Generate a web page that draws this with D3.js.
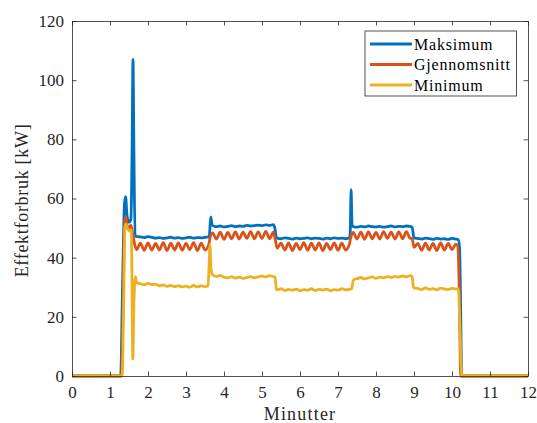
<!DOCTYPE html>
<html><head><meta charset="utf-8">
<script src="https://cdn.jsdelivr.net/npm/d3@7"></script>
<style>body{margin:0;background:#fff}svg{display:block}</style>
</head><body>
<svg id="chart" width="537" height="423"></svg>
<script>
const xTicks = [0,1,2,3,4,5,6,7,8,9,10,11,12];
const yTicks = [0,20,40,60,80,100,120];
const seriesNames = ["Maksimum","Gjennomsnitt","Minimum"];

const maxT = [0,1.28,1.33,1.38,1.41,1.45,1.5,1.55,1.58,1.605,1.63,1.66,
1.7,1.8,1.9,2.0,2.1,2.2,2.3,2.4,2.5,2.6,2.7,2.8,2.9,3.0,3.1,3.2,3.3,3.4,3.5,3.6,
3.62,3.65,3.69,3.75,
3.8,3.9,4.0,4.1,4.2,4.3,4.4,4.5,4.6,4.7,4.8,4.9,5.0,5.1,5.2,5.3,
5.33,5.38,
5.4,5.5,5.6,5.7,5.8,5.9,6.0,6.1,6.2,6.3,6.4,6.5,6.6,6.7,6.8,6.9,7.0,7.1,7.2,7.3,
7.32,7.345,7.37,
7.4,7.5,7.6,7.7,7.8,7.9,8.0,8.1,8.2,8.3,8.4,8.5,8.6,8.7,8.8,8.9,
8.95,9.0,
9.1,9.2,9.3,9.4,9.5,9.6,9.7,9.8,9.9,10.0,10.1,
10.17,10.2,10.26,12];
const maxV = [0,0,30,58,60.6,54,52,53,75,107,75,47.3,
47.2,47.0,46.8,47.1,46.9,46.6,46.8,46.5,46.7,46.9,46.6,46.8,46.5,46.7,46.9,46.6,46.8,46.7,46.9,47.0,
48,53.8,51,50.6,
50.5,50.7,50.4,50.6,50.8,50.5,50.7,50.6,50.9,50.7,50.8,51.0,50.8,51.1,50.9,51.2,
50.5,46.8,
46.6,46.4,46.7,46.5,46.3,46.6,46.4,46.5,46.7,46.4,46.6,46.5,46.3,46.6,46.4,46.7,46.5,46.6,46.4,46.7,
48,63,51,
50.5,50.3,50.6,50.4,50.7,50.5,50.4,50.6,50.3,50.5,50.7,50.4,50.6,50.5,50.7,50.6,
50.3,46.7,
46.5,46.3,46.6,46.4,46.2,46.5,46.3,46.4,46.2,46.5,46.3,
46,43,0,0];

const avgT = [0,1.3,1.34,1.38,1.41,1.45,1.5,1.55,1.6,1.65,
1.7,1.8,1.9,2.0,2.1,2.2,2.3,2.4,2.5,2.6,2.7,2.8,2.9,3.0,3.1,3.2,3.3,3.4,3.5,3.6,
3.63,
3.7,3.8,3.9,4.0,4.1,4.2,4.3,4.4,4.5,4.6,4.7,4.8,4.9,5.0,5.1,5.2,5.3,
5.35,
5.4,5.5,5.6,5.7,5.8,5.9,6.0,6.1,6.2,6.3,6.4,6.5,6.6,6.7,6.8,6.9,7.0,7.1,7.2,7.3,
7.33,
7.4,7.5,7.6,7.7,7.8,7.9,8.0,8.1,8.2,8.3,8.4,8.5,8.6,8.7,8.8,8.9,
8.95,
9.0,9.1,9.2,9.3,9.4,9.5,9.6,9.7,9.8,9.9,10.0,10.1,
10.15,10.19,10.23,12];
const avgV = [0,0,20,50,54,51,50,51,48,44.5,
42.7,44.9,42.5,45.0,42.6,44.8,42.6,45.1,42.4,44.9,42.6,45.0,42.5,44.8,42.7,45.1,42.4,44.9,42.6,44.5,
46.5,
48.4,46.3,48.6,46.2,48.5,46.4,48.7,46.3,48.6,46.5,48.8,46.4,48.7,46.5,48.9,46.4,48.6,
46,
43.2,44.9,42.6,45.0,42.4,44.8,42.7,45.1,42.5,44.9,42.6,45.0,42.4,44.8,42.7,45.0,42.5,44.9,42.6,44.6,
46.5,
48.5,46.3,48.6,46.2,48.7,46.4,48.5,46.3,48.8,46.5,48.6,46.3,48.7,46.4,48.8,46.5,
46.5,
43.5,44.8,42.5,44.9,42.6,44.8,42.4,45.0,42.6,44.8,42.7,44.6,
44,30,0,0];

const minT = [0,1.32,1.36,1.39,1.42,1.47,1.52,1.56,1.58,1.6,1.63,1.67,1.7,
1.8,1.9,2.0,2.1,2.2,2.3,2.4,2.5,2.6,2.7,2.8,2.9,3.0,3.1,3.2,3.3,3.4,3.5,
3.58,3.61,3.63,3.66,3.7,
3.8,3.9,4.0,4.1,4.2,4.3,4.4,4.5,4.6,4.7,4.8,4.9,5.0,5.1,5.2,5.3,
5.34,5.38,
5.4,5.5,5.6,5.7,5.8,5.9,6.0,6.1,6.2,6.3,6.4,6.5,6.6,6.7,6.8,6.9,7.0,7.1,7.2,7.3,
7.36,7.4,7.45,
7.5,7.6,7.7,7.8,7.9,8.0,8.1,8.2,8.3,8.4,8.5,8.6,8.7,8.8,8.9,
8.95,8.99,
9.1,9.2,9.3,9.4,9.5,9.6,9.7,9.8,9.9,10.0,10.1,
10.17,10.2,10.26,12];
const minV = [0,0,25,50,51.4,49.5,49,49.5,30,5.7,25,33.6,31.5,
31.2,30.8,31.3,30.9,31.0,30.5,30.8,30.3,30.6,30.2,30.5,30.1,30.4,30.0,30.6,30.1,30.5,30.2,
30.5,38,44.3,36,34.2,
33.6,34.0,33.4,33.2,33.6,33.1,33.4,33.0,33.3,33.6,33.2,33.5,33.8,33.5,33.9,33.6,
33.5,29.3,
29.1,29.5,28.9,29.3,29.0,29.4,28.8,29.2,29.0,29.5,28.9,29.3,29.1,29.4,28.8,29.2,29.0,29.5,29.1,29.3,
29.5,32.3,32.8,
32.9,33.3,32.8,33.2,33.5,33.0,33.4,33.2,33.6,33.3,33.7,33.4,33.8,33.5,33.9,
33.6,29.8,
29.6,29.2,29.8,29.3,29.5,29.1,29.7,29.4,29.2,29.6,29.4,
29.5,20,0,0];

const colors = ["#0072BD","#D95319","#EDB120"];
const series = [
  {name: seriesNames[0], t: maxT, v: maxV, color: colors[0]},
  {name: seriesNames[1], t: avgT, v: avgV, color: colors[1]},
  {name: seriesNames[2], t: minT, v: minV, color: colors[2]}
];

const svg = d3.select("#chart");
const L = 72, R = 528, T = 21, B = 376;
const x = d3.scaleLinear().domain([0,12]).range([L,R]);
const y = d3.scaleLinear().domain([0,120]).range([B,T]);
const axisColor = "#262626";
const font = "'Liberation Serif', 'Times New Roman', serif";

// lines
svg.append("clipPath").attr("id","clip").append("rect")
  .attr("x",L).attr("y",T-2).attr("width",R-L).attr("height",B-T+4);
const line = d3.line().x(d=>x(d[0])).y(d=>y(d[1])).curve(d3.curveMonotoneX);
svg.append("g").attr("clip-path","url(#clip)").selectAll("path").data(series).join("path")
  .attr("d", s => line(s.t.map((t,i)=>[t, s.v[i]])))
  .attr("fill","none").attr("stroke", s=>s.color).attr("stroke-width",2.8)
  .attr("stroke-linejoin","round").attr("stroke-linecap","butt");

// axes
const tl = 4.5;
const gx = svg.append("g").attr("transform",`translate(0,${B})`)
  .call(d3.axisBottom(x).tickValues(xTicks).tickSizeInner(-tl).tickSizeOuter(0).tickPadding(11).tickFormat(d3.format("d")));
const gxt = svg.append("g").attr("transform",`translate(0,${T})`)
  .call(d3.axisTop(x).tickValues(xTicks).tickSizeInner(-tl).tickSizeOuter(0).tickFormat(""));
const gy = svg.append("g").attr("transform",`translate(${L},0)`)
  .call(d3.axisLeft(y).tickValues(yTicks).tickSizeInner(-tl).tickSizeOuter(0).tickPadding(8).tickFormat(d3.format("d")));
const gyr = svg.append("g").attr("transform",`translate(${R},0)`)
  .call(d3.axisRight(y).tickValues(yTicks).tickSizeInner(-tl).tickSizeOuter(0).tickFormat(""));
[gx,gxt,gy,gyr].forEach(g=>{
  g.attr("font-family", font);
  g.select(".domain").attr("stroke",axisColor).attr("stroke-width",0.8);
  g.selectAll(".tick line").attr("stroke",axisColor).attr("stroke-width",0.8);
  g.selectAll(".tick text").attr("fill",axisColor).attr("font-family",font).style("font-family",font).style("font-size","17px");
});
gx.selectAll(".tick text").attr("dy","0.66em");

// axis labels
svg.append("text").attr("x",(L+R)/2).attr("y",420).attr("text-anchor","middle")
  .attr("font-family",font).style("font-size","18px").style("letter-spacing","1.2px")
  .attr("fill",axisColor).text("Minutter");
svg.append("text").attr("transform",`translate(28,${(T+B)/2 + 2}) rotate(-90)`).attr("text-anchor","middle")
  .attr("font-family",font).style("font-size","18px").style("letter-spacing","0.7px")
  .attr("fill",axisColor).text("Effektforbruk [kW]");

// legend
const lg = svg.append("g");
lg.append("rect").attr("x",365).attr("y",31).attr("width",151.5).attr("height",65)
  .attr("fill","#fff").attr("stroke",axisColor).attr("stroke-width",0.8);
series.forEach((s,i)=>{
  const yy = 44 + i*20.5;
  lg.append("line").attr("x1",370).attr("x2",412).attr("y1",yy).attr("y2",yy)
    .attr("stroke",s.color).attr("stroke-width",2.8);
  lg.append("text").attr("x",414).attr("y",yy).attr("dy","0.35em")
    .attr("font-family",font).style("font-size","16px").style("letter-spacing","0.8px")
    .attr("fill","#000").text(s.name);
});
</script>
</body></html>
